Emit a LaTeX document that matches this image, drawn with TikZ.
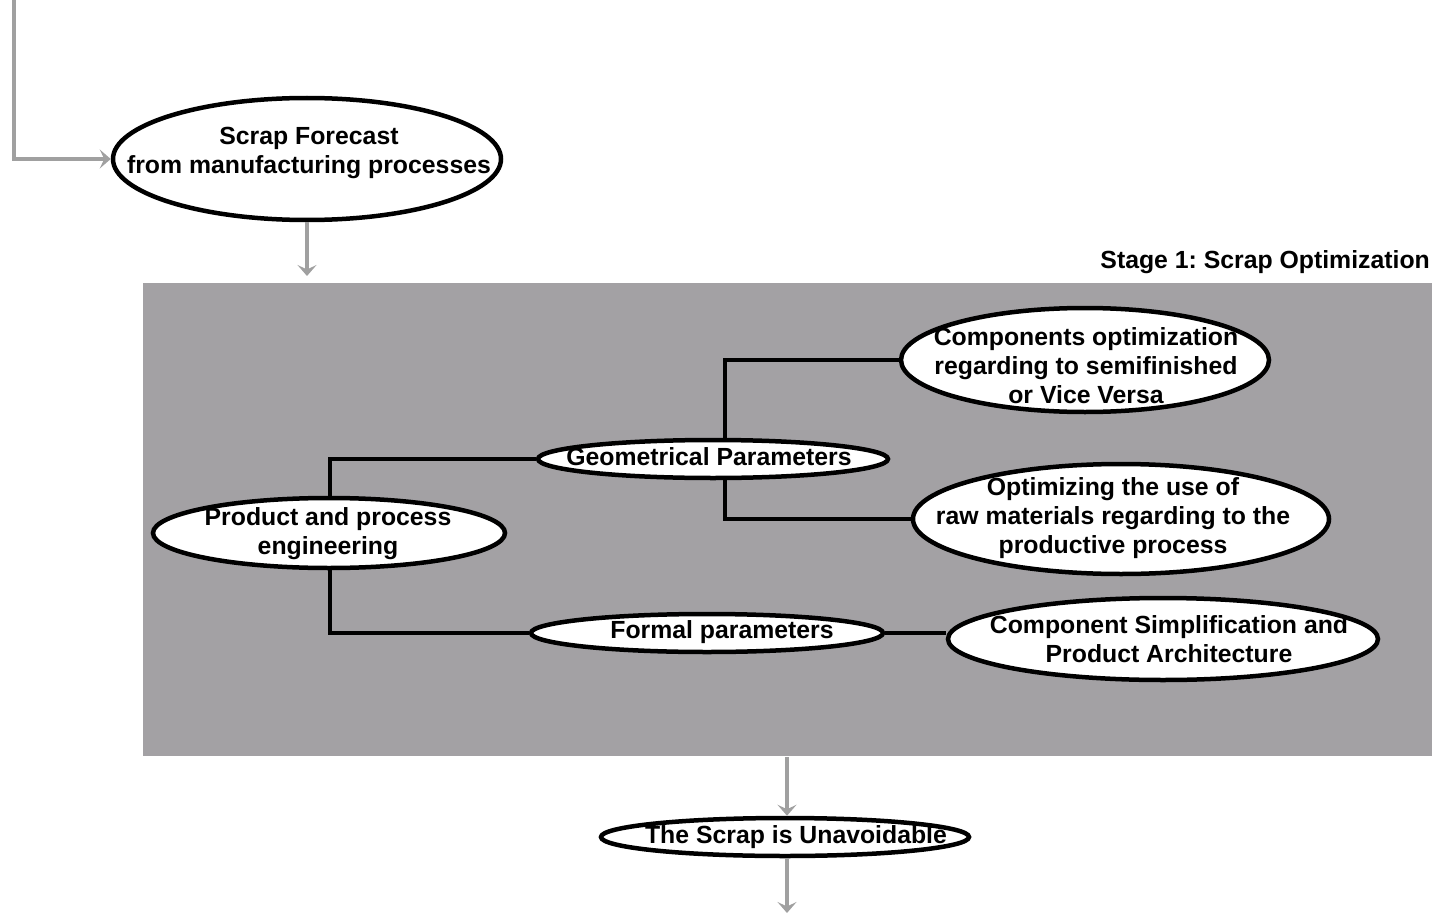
\documentclass[tikz,border=0pt]{standalone}
\usepackage{fontspec}
\setmainfont{Liberation Sans}
\usetikzlibrary{shapes.geometric,arrows.meta}
\definecolor{flowgray}{RGB}{160,160,160}
\definecolor{stagegray}{RGB}{163,161,164}
\tikzset{
  oval/.style={ellipse, draw=black, line width=4.5pt, fill=white, inner sep=0pt},
  txt/.style={font=\bfseries\fontsize{24.8}{29}\selectfont\frenchspacing, align=center, inner sep=0pt},
  flow/.style={draw=flowgray, line width=4pt, arrows={-Stealth[length=11pt,width=19pt,inset=4.5pt]}},
  link/.style={draw=black, line width=4pt},
}
\begin{document}
\begin{tikzpicture}[x=1pt,y=-1pt]
\useasboundingbox (0,0) rectangle (1435,915);

% stage panel
\node[fill=stagegray, minimum width=1289pt, minimum height=473pt, inner sep=0pt, anchor=north west] (panel) at (143,283) {};
\node[txt, anchor=base east] (stage) at (1430,268) {Stage 1: Scrap Optimization};

% ellipses
\node[oval, minimum width=388pt, minimum height=122pt] (forecast) at (307,159) {};
\node[txt] (forecastT) at (309,153) {Scrap Forecast\\from manufacturing processes};

\node[oval, minimum width=352pt, minimum height=70pt] (prod) at (329,533) {};
\node[txt] (prodT) at (328,534) {Product and process\\engineering};

\node[oval, minimum width=350pt, minimum height=38pt] (geo) at (713,459) {};
\node[txt] (geoT) at (709,457) {Geometrical Parameters};

\node[oval, minimum width=352pt, minimum height=38pt] (formal) at (707,633) {};
\node[txt] (formalT) at (722,632) {Formal parameters};

\node[oval, minimum width=368pt, minimum height=104pt] (comp) at (1085,360) {};
\node[txt] (compT) at (1086,366) {Components optimization\\regarding to semifinished\\or Vice Versa};

\node[oval, minimum width=416pt, minimum height=110pt] (raw) at (1121,519) {};
\node[txt] (rawT) at (1113,518) {Optimizing the use of\\raw materials regarding to the\\productive process};

\node[oval, minimum width=430pt, minimum height=82pt] (simp) at (1163,639) {};
\node[txt] (simpT) at (1169,639) {Component Simplification and\\Product Architecture};

\node[oval, minimum width=368pt, minimum height=38pt] (unav) at (785,837) {};
\node[txt] (unavT) at (796,837) {The Scrap is Unavoidable};

% loose ends of the grey flow
\coordinate (inTop) at (14,0);
\coordinate (panelIn) at (307,276);
\coordinate (panelOut) at (787,757);
\coordinate (outEnd) at (787,913);

% grey flow arrows
\draw[flow] (inTop) |- (forecast.west);
\draw[flow] (forecast.south) -- (panelIn);
\draw[flow] (panelOut) -- (unav.north -| panelOut);
\draw[flow] (unav.south -| outEnd) -- (outEnd);

% black tree connectors
\draw[link] (prod.north -| 330,0) |- (geo.west);
\draw[link] (prod.south -| 330,0) |- (formal.west);
\draw[link] (geo.north -| 725,0) |- (comp.west);
\draw[link] (geo.south -| 725,0) |- (raw.west);
\draw[link] (formal.east) -- (simp.west |- formal.east);
\end{tikzpicture}
\end{document}
